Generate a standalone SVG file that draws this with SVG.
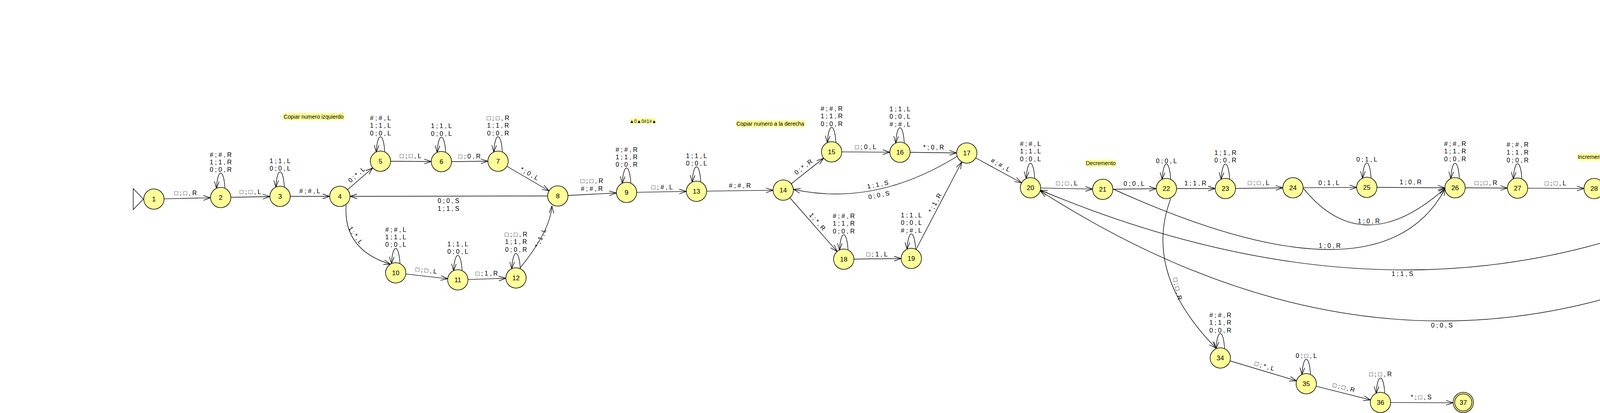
<svg xmlns="http://www.w3.org/2000/svg" width="4741" height="1058" viewBox="0 0 4741 1058">
<style>
.n circle{fill:#ffff99;stroke:#000;stroke-width:1.5}
.n text{font-family:"Liberation Sans","DejaVu Sans",sans-serif;font-size:17px;text-anchor:middle;fill:#000}
.e{fill:none;stroke:#000;stroke-width:1.4;marker-end:url(#arr)}
.l{font-family:"Liberation Sans","DejaVu Sans",sans-serif;font-size:16px;text-anchor:middle;fill:#000}
.note rect{fill:#ffff99}
.note text{font-family:"Liberation Sans","DejaVu Sans",sans-serif;font-size:14px;text-anchor:middle;fill:#000}
</style>
<defs>
<marker id="arr" markerUnits="userSpaceOnUse" markerWidth="22" markerHeight="16" viewBox="-20 -8 22 16" refX="0" refY="0" orient="auto">
<path d="M-18,-6 L0,0 L-18,6" fill="none" stroke="#000" stroke-width="1.4"/>
</marker>
</defs>
<rect width="4741" height="1058" fill="#fff"/>

<g id="notes">
<g class="note" id="note-izq"><rect x="725" y="289" width="157" height="19"/><text x="803" y="304">Copiar numero izquierdo</text></g>
<g class="note" id="note-tape"><rect x="1613" y="303" width="66" height="14"/><text x="1646" y="315" style="font-size:12px">▲0▲0#1#▲</text></g>
<g class="note" id="note-der"><rect x="1884" y="308" width="177" height="18"/><text x="1972" y="322">Copiar numero a la derecha</text></g>
<g class="note" id="note-dec"><rect x="2779" y="409" width="78" height="18"/><text x="2818" y="423">Decremento</text></g>
<g class="note" id="note-inc"><rect x="4038" y="393" width="72" height="19"/><text x="4074" y="407">Incremento</text></g>
</g>

<g id="connectors">
<polygon points="341,483 367,510 341,537" fill="#fff" stroke="#000" stroke-width="1.4"/>
<path class="e" d="M420,509.4 L539,506.6"/>
<path class="e" d="M591,505.5 L691,503.5"/>
<path class="e" d="M743,503 L844,503"/>
<path class="e" d="M889.7,486 L954.3,430"/>
<path class="e" d="M1000,413.2 L1104,413.8"/>
<path class="e" d="M1156,414 L1249,413"/>
<path class="e" d="M1297.5,426 L1405.5,489"/>
<path class="e" d="M1402,502 L896,503"/>
<path class="e" d="M886,525 Q878,640 1000,677"/>
<path class="e" d="M1038.8,701.9 L1146.2,714.1"/>
<path class="e" d="M1198,716.1 L1295,712.9"/>
<path class="e" d="M1330,688 Q1408,593 1413,528"/>
<path class="e" d="M1454,500.7 L1578,494.3"/>
<path class="e" d="M1630,492.6 L1757,490.4"/>
<path class="e" d="M1809,489.6 L1979,487.4"/>
<path class="e" d="M2025.4,470.9 L2108.6,405.1"/>
<path class="e" d="M2155,389.1 L2278,389.9"/>
<path class="e" d="M2330,390.3 L2449,391.7"/>
<path class="e" d="M2451,400 Q2240,531 2031,485"/>
<path class="e" d="M2022.1,506.6 L2142.9,644.4"/>
<path class="e" d="M2186,663.7 L2307,662.3"/>
<path class="e" d="M2345,639 L2462,415"/>
<path class="e" d="M2497.8,404.5 L2615.2,468.5"/>
<path class="e" d="M2664,481.6 L2797,484.4"/>
<path class="e" d="M2849,484.7 L2960,483.3"/>
<path class="e" d="M3012,483 L3111,483"/>
<path class="e" d="M3163,482.8 L3284,481.2"/>
<path class="e" d="M3336,480.9 L3473,480.1"/>
<path class="e" d="M3525,480 L3699,481"/>
<path class="e" d="M3751,481.2 L3859,481.8"/>
<path class="e" d="M3911,482.1 L4055,482.9"/>
<path class="e" d="M4105.9,475.4 L4251.1,430.6"/>
<path class="e" d="M4300.1,413.3 L4413.9,367.7"/>
<path class="e" d="M4300.6,431.5 L4441.4,480.5"/>
<path class="e" d="M4106,481 Q4257,530 4440,488"/>
<path class="e" d="M4464,358 L4561,358"/>
<path class="e" d="M4605.1,376.7 L4694.9,469.3"/>
<path class="e" d="M4440,489 Q3636,895 2663,487"/>
<path class="e" d="M4688,492 Q3702,1154 2663,489"/>
<path class="e" d="M2849,484 Q3533,795 3700,483"/>
<path class="e" d="M3337,483 Q3489,670 3700,482"/>
<path class="e" d="M2997,509 Q2925,700 3113,892"/>
<path class="e" d="M3148.9,924.5 L3319.1,975.5"/>
<path class="e" d="M3369.2,989.4 L3508.8,1024.6"/>
<path class="e" d="M3560,1031.1 L3720,1031.9"/>
<path class="e" d="M576,483 C573,430 557,430 554,483"/>
<path class="e" d="M728,480 C725,427 709,427 706,480"/>
<path class="e" d="M985,390 C982,337 966,337 963,390"/>
<path class="e" d="M1141,391 C1138,338 1122,338 1119,391"/>
<path class="e" d="M1286,390 C1283,337 1267,337 1264,390"/>
<path class="e" d="M1615,470 C1612,417 1596,417 1593,470"/>
<path class="e" d="M1024,676 C1021,623 1005,623 1002,676"/>
<path class="e" d="M1183,694 C1180,641 1164,641 1161,694"/>
<path class="e" d="M1332,689 C1329,636 1313,636 1310,689"/>
<path class="e" d="M1794,467 C1791,414 1775,414 1772,467"/>
<path class="e" d="M2140,366 C2137,313 2121,313 2118,366"/>
<path class="e" d="M2315,367 C2312,314 2296,314 2293,367"/>
<path class="e" d="M2171,641 C2168,588 2152,588 2149,641"/>
<path class="e" d="M2344,639 C2341,586 2325,586 2322,639"/>
<path class="e" d="M2649,458 C2646,405 2630,405 2627,458"/>
<path class="e" d="M2997,460 C2994,407 2978,407 2975,460"/>
<path class="e" d="M3148,460 C3145,407 3129,407 3126,460"/>
<path class="e" d="M3510,457 C3507,404 3491,404 3488,457"/>
<path class="e" d="M3736,458 C3733,405 3717,405 3714,458"/>
<path class="e" d="M3896,459 C3893,406 3877,406 3874,459"/>
<path class="e" d="M4287,400 C4284,347 4268,347 4265,400"/>
<path class="e" d="M4598,335 C4595,282 4579,282 4576,335"/>
<path class="e" d="M3135,894 C3132,841 3116,841 3113,894"/>
<path class="e" d="M3355,960 C3352,907 3336,907 3333,960"/>
<path class="e" d="M3545,1008 C3542,955 3526,955 3523,1008"/>
</g>

<g id="edge-labels">
<text class="l" x="475" y="500">□ ; □ , R</text>
<text class="l" x="641" y="497">□ ; □ , L</text>
<text class="l" x="793" y="495"># ; # , L</text>
<text class="l" transform="translate(913,448) rotate(-41)" y="5">0 ; * , L</text>
<text class="l" x="1051" y="405">□ ; □ , L</text>
<text class="l" x="1202" y="406">□ ; 0 , R</text>
<text class="l" transform="translate(1355,445) rotate(30)" y="5">* ; 0 , L</text>
<text class="l" x="1148" y="520">0 ; 0 , S</text>
<text class="l" x="1148" y="540">1 ; 1 , S</text>
<text class="l" transform="translate(910,603) rotate(55)" y="5">1 ; * , L</text>
<text class="l" transform="translate(1091,693) rotate(6.5)" y="5">□ ; □ , L</text>
<text class="l" x="1246" y="706">□ ; 1 , R</text>
<text class="l" transform="translate(1384,610) rotate(-66)" y="5">* ; 1 , L</text>
<text class="l" x="1515" y="469">□ ; □ , R</text>
<text class="l" x="1515" y="489"># ; # , R</text>
<text class="l" x="1695" y="485">□ ; # , L</text>
<text class="l" x="1894" y="481"># ; # , R</text>
<text class="l" transform="translate(2057,428) rotate(-38)" y="5">0 ; * , R</text>
<text class="l" x="2216" y="382">□ ; 0 , L</text>
<text class="l" x="2390" y="383">* ; 0 , R</text>
<text class="l" transform="translate(2247,473) rotate(-11)" y="5">1 ; 1 , S</text>
<text class="l" transform="translate(2250,500) rotate(-11)" y="5">0 ; 0 , S</text>
<text class="l" transform="translate(2092,568) rotate(49)" y="5">1 ; * , R</text>
<text class="l" x="2245" y="657">□ ; 1 , L</text>
<text class="l" transform="translate(2394,520) rotate(-62)" y="5">* ; 1 , R</text>
<text class="l" transform="translate(2561,423) rotate(28.6)" y="5"># ; # , L</text>
<text class="l" x="2731" y="475">□ ; □ , L</text>
<text class="l" x="2903" y="476">0 ; 0 , L</text>
<text class="l" x="3060" y="475">1 ; 1 , R</text>
<text class="l" x="3222" y="474">□ ; □ , L</text>
<text class="l" x="3402" y="474">0 ; 1 , L</text>
<text class="l" x="3611" y="472">1 ; 0 , R</text>
<text class="l" x="3804" y="474">□ ; □ , R</text>
<text class="l" x="3982" y="475">□ ; □ , L</text>
<text class="l" transform="translate(4175,442) rotate(-17)" y="5">1 ; 0 , L</text>
<text class="l" transform="translate(4352,380) rotate(-22)" y="5"># ; # , R</text>
<text class="l" transform="translate(4375,443) rotate(19)" y="5">0 ; 1 , S</text>
<text class="l" x="4250" y="504">0 ; 1 , S</text>
<text class="l" x="4513" y="352">0 ; 1 , R</text>
<text class="l" transform="translate(4657,415) rotate(46)" y="5">□ ; 0 , S</text>
<text class="l" x="3590" y="707">1 ; 1 , S</text>
<text class="l" x="3691" y="839">0 ; 0 , S</text>
<text class="l" x="3404" y="635">1 ; 0 , R</text>
<text class="l" x="3504" y="572">1 ; 0 , R</text>
<text class="l" transform="translate(3014,740) rotate(78)" y="5">□ ; □ , R</text>
<text class="l" transform="translate(3237,938) rotate(16.7)" y="5">□ ; * , L</text>
<text class="l" transform="translate(3440,993) rotate(14)" y="5">□ ; □ , R</text>
<text class="l" x="3638" y="1023">* ; □ , S</text>
<text class="l" x="565" y="402"># ; # , R</text><text class="l" x="565" y="421">1 ; 1 , R</text><text class="l" x="565" y="440">0 ; 0 , R</text>
<text class="l" x="717" y="418">1 ; 1 , L</text><text class="l" x="717" y="437">0 ; 0 , L</text>
<text class="l" x="974" y="308"># ; # , L</text><text class="l" x="974" y="327">1 ; 1 , L</text><text class="l" x="974" y="347">0 ; 0 , L</text>
<text class="l" x="1130" y="328">1 ; 1 , L</text><text class="l" x="1130" y="348">0 ; 0 , L</text>
<text class="l" x="1275" y="308">□ ; □ , R</text><text class="l" x="1275" y="327">1 ; 1 , R</text><text class="l" x="1275" y="347">0 ; 0 , R</text>
<text class="l" x="1604" y="389"># ; # , R</text><text class="l" x="1604" y="408">1 ; 1 , R</text><text class="l" x="1604" y="427">0 ; 0 , R</text>
<text class="l" x="1013" y="594"># ; # , L</text><text class="l" x="1013" y="613">1 ; 1 , L</text><text class="l" x="1013" y="632">0 ; 0 , L</text>
<text class="l" x="1172" y="631">1 ; 1 , L</text><text class="l" x="1172" y="650">0 ; 0 , L</text>
<text class="l" x="1321" y="606">□ ; □ , R</text><text class="l" x="1321" y="625">1 ; 1 , R</text><text class="l" x="1321" y="645">0 ; 0 , R</text>
<text class="l" x="1783" y="405">1 ; 1 , L</text><text class="l" x="1783" y="424">0 ; 0 , L</text>
<text class="l" x="2129" y="284"># ; # , R</text><text class="l" x="2129" y="303">1 ; 1 , R</text><text class="l" x="2129" y="323">0 ; 0 , R</text>
<text class="l" x="2304" y="285">1 ; 1 , L</text><text class="l" x="2304" y="304">0 ; 0 , L</text><text class="l" x="2304" y="324"># ; # , L</text>
<text class="l" x="2160" y="559"># ; # , R</text><text class="l" x="2160" y="578">1 ; 1 , R</text><text class="l" x="2160" y="598">0 ; 0 , R</text>
<text class="l" x="2333" y="557">1 ; 1 , L</text><text class="l" x="2333" y="576">0 ; 0 , L</text><text class="l" x="2333" y="596"># ; # , L</text>
<text class="l" x="2638" y="374"># ; # , L</text><text class="l" x="2638" y="393">1 ; 1 , L</text><text class="l" x="2638" y="413">0 ; 0 , L</text>
<text class="l" x="2986" y="418">0 ; 0 , L</text>
<text class="l" x="3137" y="397">1 ; 1 , R</text><text class="l" x="3137" y="416">0 ; 0 , R</text>
<text class="l" x="3499" y="414">0 ; 1 , L</text>
<text class="l" x="3725" y="374"># ; # , R</text><text class="l" x="3725" y="393">1 ; 1 , R</text><text class="l" x="3725" y="413">0 ; 0 , R</text>
<text class="l" x="3885" y="376"># ; # , R</text><text class="l" x="3885" y="396">1 ; 1 , R</text><text class="l" x="3885" y="416">0 ; 0 , R</text>
<text class="l" x="4276" y="357">1 ; 0 , L</text>
<text class="l" x="4587" y="272">1 ; 1 , R</text><text class="l" x="4587" y="291">0 ; 0 , R</text>
<text class="l" x="3124" y="813"># ; # , R</text><text class="l" x="3124" y="832">1 ; 1 , R</text><text class="l" x="3124" y="852">0 ; 0 , R</text>
<text class="l" x="3344" y="917">0 ; □ , L</text>
<text class="l" x="3534" y="964">□ ; □ , R</text>
</g>

<g id="node-1" class="n"><circle cx="394" cy="510" r="26"/><text x="394" y="516">1</text></g>
<g id="node-2" class="n"><circle cx="565" cy="506" r="26"/><text x="565" y="512">2</text></g>
<g id="node-3" class="n"><circle cx="717" cy="503" r="26"/><text x="717" y="509">3</text></g>
<g id="node-4" class="n"><circle cx="870" cy="503" r="26"/><text x="870" y="509">4</text></g>
<g id="node-5" class="n"><circle cx="974" cy="413" r="26"/><text x="974" y="419">5</text></g>
<g id="node-6" class="n"><circle cx="1130" cy="414" r="26"/><text x="1130" y="420">6</text></g>
<g id="node-7" class="n"><circle cx="1275" cy="413" r="26"/><text x="1275" y="419">7</text></g>
<g id="node-8" class="n"><circle cx="1428" cy="502" r="26"/><text x="1428" y="508">8</text></g>
<g id="node-9" class="n"><circle cx="1604" cy="493" r="26"/><text x="1604" y="499">9</text></g>
<g id="node-10" class="n"><circle cx="1013" cy="699" r="26"/><text x="1013" y="705">10</text></g>
<g id="node-11" class="n"><circle cx="1172" cy="717" r="26"/><text x="1172" y="723">11</text></g>
<g id="node-12" class="n"><circle cx="1321" cy="712" r="26"/><text x="1321" y="718">12</text></g>
<g id="node-13" class="n"><circle cx="1783" cy="490" r="26"/><text x="1783" y="496">13</text></g>
<g id="node-14" class="n"><circle cx="2005" cy="487" r="26"/><text x="2005" y="493">14</text></g>
<g id="node-15" class="n"><circle cx="2129" cy="389" r="26"/><text x="2129" y="395">15</text></g>
<g id="node-16" class="n"><circle cx="2304" cy="390" r="26"/><text x="2304" y="396">16</text></g>
<g id="node-17" class="n"><circle cx="2475" cy="392" r="26"/><text x="2475" y="398">17</text></g>
<g id="node-18" class="n"><circle cx="2160" cy="664" r="26"/><text x="2160" y="670">18</text></g>
<g id="node-19" class="n"><circle cx="2333" cy="662" r="26"/><text x="2333" y="668">19</text></g>
<g id="node-20" class="n"><circle cx="2638" cy="481" r="26"/><text x="2638" y="487">20</text></g>
<g id="node-21" class="n"><circle cx="2823" cy="485" r="26"/><text x="2823" y="491">21</text></g>
<g id="node-22" class="n"><circle cx="2986" cy="483" r="26"/><text x="2986" y="489">22</text></g>
<g id="node-23" class="n"><circle cx="3137" cy="483" r="26"/><text x="3137" y="489">23</text></g>
<g id="node-24" class="n"><circle cx="3310" cy="481" r="26"/><text x="3310" y="487">24</text></g>
<g id="node-25" class="n"><circle cx="3499" cy="480" r="26"/><text x="3499" y="486">25</text></g>
<g id="node-26" class="n"><circle cx="3725" cy="481" r="26"/><text x="3725" y="487">26</text></g>
<g id="node-27" class="n"><circle cx="3885" cy="482" r="26"/><text x="3885" y="488">27</text></g>
<g id="node-28" class="n"><circle cx="4081" cy="483" r="26"/><text x="4081" y="489">28</text></g>
<g id="node-29" class="n"><circle cx="4276" cy="423" r="26"/><text x="4276" y="429">29</text></g>
<g id="node-30" class="n"><circle cx="4466" cy="489" r="26"/><text x="4466" y="495">30</text></g>
<g id="node-31" class="n"><circle cx="4438" cy="358" r="26"/><text x="4438" y="364">31</text></g>
<g id="node-32" class="n"><circle cx="4587" cy="358" r="26"/><text x="4587" y="364">32</text></g>
<g id="node-33" class="n"><circle cx="4713" cy="488" r="26"/><text x="4713" y="494">33</text></g>
<g id="node-34" class="n"><circle cx="3124" cy="917" r="26"/><text x="3124" y="923">34</text></g>
<g id="node-35" class="n"><circle cx="3344" cy="983" r="26"/><text x="3344" y="989">35</text></g>
<g id="node-36" class="n"><circle cx="3534" cy="1031" r="26"/><text x="3534" y="1037">36</text></g>
<g id="node-37" class="n"><circle cx="3746" cy="1031" r="26"/><circle cx="3746" cy="1031" r="22"/><text x="3746" y="1037">37</text></g>
</svg>
